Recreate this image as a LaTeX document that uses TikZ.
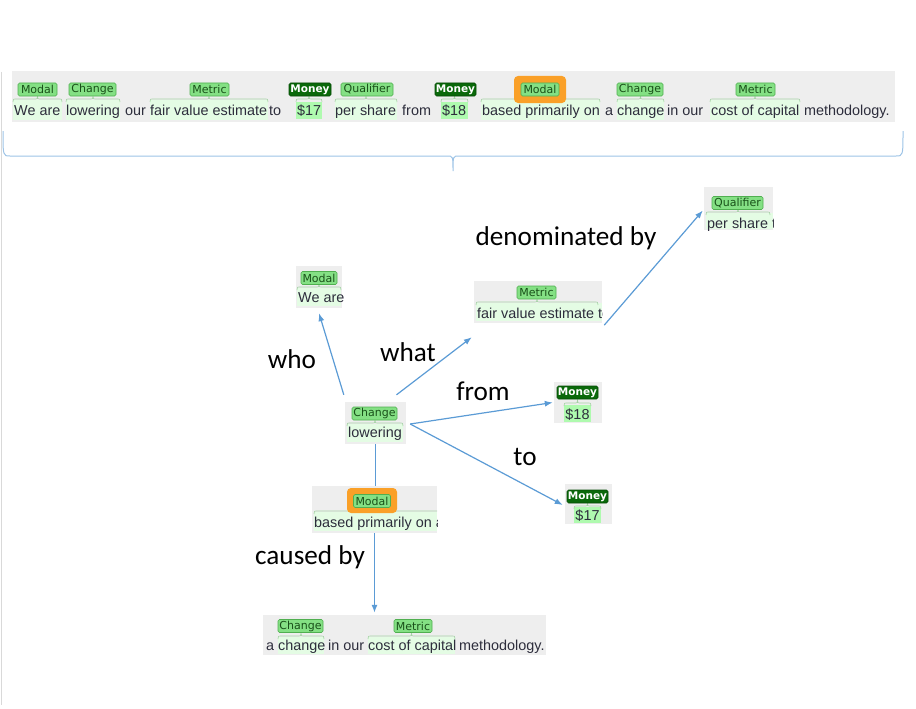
\documentclass[tikz,border=0pt]{standalone}
\usepackage{fontspec}
\setmainfont{Liberation Sans}
\newfontfamily\tagfont{DejaVu Sans}
\newfontfamily\relfont{Carlito}
\usetikzlibrary{arrows.meta}
\definecolor{bandgray}{RGB}{238,238,238}
\definecolor{tagfill}{RGB}{132,224,132}
\definecolor{tagline}{RGB}{80,175,80}
\definecolor{tagtext}{RGB}{25,80,25}
\definecolor{moneyfill}{RGB}{10,105,10}
\definecolor{spanfill}{RGB}{228,252,228}
\definecolor{cashfill}{RGB}{175,250,175}
\definecolor{bracegreen}{RGB}{165,210,165}
\definecolor{edgeblue}{RGB}{91,155,213}
\definecolor{bigbrace}{RGB}{157,195,230}
\definecolor{hilite}{RGB}{250,160,40}
\definecolor{toktext}{RGB}{45,45,60}
\tikzset{
  tag/.style={draw=tagline, fill=tagfill, rounded corners=1.5pt, line width=0.6pt,
    inner sep=0pt, minimum height=13pt, text=tagtext,
    font=\tagfont\fontsize{11}{12}\selectfont},
  money/.style={tag, draw=moneyfill!70!black, fill=moneyfill, text=white,
    font=\tagfont\bfseries\fontsize{10.5}{12}\selectfont},
  tok/.style={anchor=base west, inner sep=0pt, text=toktext,
    font=\fontsize{14.4}{17}\selectfont},
  box/.style={fill=bandgray, inner sep=0pt},
  brc/.style={draw=bracegreen, line width=0.6pt},
  edge/.style={draw=edgeblue, line width=1.2pt, -{Latex[length=8pt,width=6pt]}},
  rel/.style={font=\relfont\fontsize{27.2}{30}\selectfont},
}
% brace over a span: left, right, height
\newcommand{\spanbrace}[3]{%
  \draw[brc] (#1,#3+3) .. controls (#1,#3) .. (#1+4,#3)
    -- ({(#1+#2)/2-4},#3) .. controls ({(#1+#2)/2},#3) .. ({(#1+#2)/2},#3-3)
    .. controls ({(#1+#2)/2},#3) .. ({(#1+#2)/2+4},#3)
    -- (#2-4,#3) .. controls (#2,#3) .. (#2,#3+3);}
\begin{document}
\begin{tikzpicture}[x=1pt,y=-1pt]
\useasboundingbox (0,0) rectangle (916,709);
\draw[black!15, line width=0.8pt] (1.5,72) -- (1.5,705);

% sentence
\fill[bandgray] (12,71) rectangle (895,122);
\fill[spanfill] (13,100) rectangle (62,120);
\fill[spanfill] (66,100) rectangle (120,120);
\fill[spanfill] (150,100) rectangle (268,120);
\fill[cashfill] (296,102) rectangle (322,119);
\fill[spanfill] (335,100) rectangle (397,120);
\fill[cashfill] (441,102) rectangle (468,119);
\fill[spanfill] (481,100) rectangle (600,120);
\fill[spanfill] (617,100) rectangle (664,120);
\fill[spanfill] (710,100) rectangle (800,120);
\spanbrace{13}{62}{99}
\spanbrace{66}{120}{99}
\spanbrace{150}{268}{99}
\spanbrace{296}{322}{99}
\spanbrace{335}{397}{99}
\spanbrace{441}{468}{99}
\spanbrace{481}{600}{99}
\spanbrace{617}{664}{99}
\spanbrace{710}{800}{99}
\node[tag, minimum width=39pt] (sModal) at (37.5,89.5) {Modal};
\node[tag, minimum width=47pt] (sChange) at (92.5,89.5) {Change};
\node[tag, minimum width=39pt] (sMetric) at (209.5,89.5) {Metric};
\node[money, minimum width=42pt] (sMoneyA) at (310,89.5) {Money};
\node[tag, minimum width=52pt] (sQual) at (367,89.5) {Qualifier};
\node[money, minimum width=41pt] (sMoneyB) at (455.5,89.5) {Money};
\fill[hilite, rounded corners=4pt] (514,76) rectangle (566,103);
\node[tag, minimum width=38pt] (sModalB) at (540,89.5) {Modal};
\node[tag, minimum width=46pt] (sChangeB) at (640,89.5) {Change};
\node[tag, minimum width=39pt] (sMetricB) at (755.5,89.5) {Metric};
\node[tok] (w1) at (14,115) {We are};
\node[tok] (w2) at (66,115) {lowering};
\node[tok] (w3) at (125,115) {our};
\node[tok] (w4) at (150,115) {fair value estimate};
\node[tok] (w5) at (269,115) {to};
\node[tok] (w6) at (297,115) {\$17};
\node[tok] (w7) at (335,115) {per share};
\node[tok] (w8) at (402,115) {from};
\node[tok] (w9) at (442,115) {\$18};
\node[tok] (w10) at (482,115) {based primarily on};
\node[tok] (w11) at (605,115) {a};
\node[tok] (w12) at (617,115) {change};
\node[tok] (w13) at (667,115) {in our};
\node[tok] (w14) at (711,115) {cost of capital};
\node[tok] (w15) at (804,115) {methodology.};
\draw[bigbrace, line width=1pt] (3,131) .. controls (3,156) .. (10,156) -- (447,156)
  .. controls (453,156) .. (453,171) .. controls (453,156) .. (459,156)
  -- (896,156) .. controls (903,156) .. (903,131);

% graph boxes
\node[box, minimum width=46pt, minimum height=42pt] (weare) at (319,287) {};
\node[box, minimum width=128pt, minimum height=42pt] (fair) at (538,302) {};
\node[box, minimum width=69pt, minimum height=43pt] (per) at (738.5,208.5) {};
\node[box, minimum width=61pt, minimum height=42pt] (low) at (375.5,423) {};
\node[box, minimum width=48pt, minimum height=41pt] (d18) at (578,402.5) {};
\node[box, minimum width=47pt, minimum height=40pt] (d17) at (588.5,504) {};
\node[box, minimum width=125pt, minimum height=47pt] (based) at (374.5,509.5) {};
\node[box, minimum width=283pt, minimum height=40pt] (bot) at (404.5,635) {};

% We are
\fill[spanfill] (297,288) rectangle (341,306);
\spanbrace{297}{341}{287}
\node[tag, minimum width=36pt] (gModal) at (319,278) {Modal};
\node[tok] (gWe) at (298,302) {We are};
% fair value estimate
\begin{scope}
\clip (474,281) rectangle (602,323);
\fill[spanfill] (476,303) rectangle (602,321);
\spanbrace{476}{598}{302}
\node[tok] (gFair) at (477,318) {fair value estimate to};
\end{scope}
\node[tag, minimum width=39pt] (gMetric) at (536.5,292.5) {Metric};
% per share
\begin{scope}
\clip (704,187) rectangle (773,230);
\fill[spanfill] (706,213) rectangle (773,229);
\spanbrace{706}{770}{212}
\node[tok] (gPer) at (707,228) {per share to};
\end{scope}
\node[tag, minimum width=51pt] (gQual) at (737.5,203) {Qualifier};
% lowering
\fill[spanfill] (347,424) rectangle (403,442);
\spanbrace{347}{403}{423}
\node[tag, minimum width=45pt] (gChange) at (374.5,413.5) {Change};
\node[tok] (gLow) at (348,437) {lowering};
% $18
\fill[cashfill] (564,405) rectangle (591,422);
\spanbrace{564}{591}{403}
\node[money, minimum width=41pt] (gMoneyB) at (577.5,392.5) {Money};
\node[tok, anchor=base] (g18) at (577.5,419) {\$18};
% $17
\fill[cashfill] (574,507) rectangle (601,523);
\spanbrace{574}{601}{506}
\node[money, minimum width=41pt] (gMoneyA) at (587.5,496.5) {Money};
\node[tok, anchor=base] (g17) at (587.5,520) {\$17};
% based primarily on
\begin{scope}
\clip (312,486) rectangle (437,533);
\fill[spanfill] (314,512) rectangle (437,531);
\spanbrace{314}{440}{511}
\node[tok] (gBased) at (314,527) {based primarily on a};
\end{scope}
\fill[hilite, rounded corners=4pt] (347,488) rectangle (397,513);
\node[tag, minimum width=37pt] (gModalB) at (372,501) {Modal};
% a change in our cost of capital methodology.
\fill[spanfill] (278,637) rectangle (324,654);
\fill[spanfill] (368,637) rectangle (455,654);
\spanbrace{278}{324}{636}
\spanbrace{368}{455}{636}
\node[tag, minimum width=45pt] (gChangeB) at (300.5,626) {Change};
\node[tag, minimum width=38pt] (gMetricB) at (413,626) {Metric};
\node[tok] (b1) at (266,650) {a};
\node[tok] (b2) at (278,650) {change};
\node[tok] (b3) at (328,650) {in our};
\node[tok] (b4) at (368,650) {cost of capital};
\node[tok] (b5) at (459,650) {methodology.};

% relations
\draw[edge] ([xshift=-1pt,yshift=7pt]low.north west) -- ([yshift=-5pt]weare.south);
\draw[edge] ([xshift=21pt,yshift=7pt]low.north) -- ([xshift=-2pt,yshift=-14pt]fair.south west);
\draw[edge] ([xshift=4pt,yshift=-1pt]low.east) -- ([xshift=-1pt]d18.west);
\draw[edge] ([xshift=4pt,yshift=-1pt]low.east) -- ([xshift=-2pt,yshift=-1pt]d17.west);
\draw[edgeblue, line width=1.2pt] (low.south) -- (low.south |- based.north);
\draw[edge] (based.south) -- ([yshift=2pt]based.south |- bot.north);
\draw[edge] ([xshift=2pt,yshift=-2pt]fair.south east) -- ([xshift=-1pt,yshift=-2pt]per.west);
\node[rel] (rWho) at (292,359) {who};
\node[rel] (rWhat) at (408,352) {what};
\node[rel] (rFrom) at (483,391) {from};
\node[rel] (rTo) at (525,457) {to};
\node[rel] (rDen) at (566,238) {denominated by};
\node[rel] (rCause) at (310,557) {caused by};
\end{tikzpicture}
\end{document}
